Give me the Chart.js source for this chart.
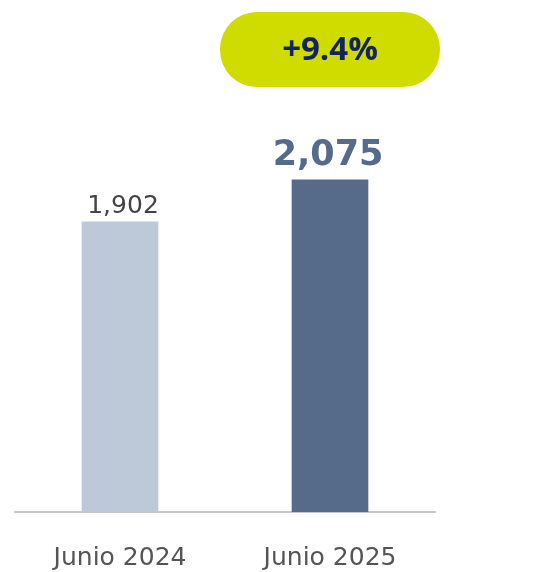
<!DOCTYPE html>
<html>
<head>
<meta charset="utf-8">
<script src="https://cdn.jsdelivr.net/npm/chart.js@4"></script>
<style>
  html, body { margin: 0; padding: 0; background: #fff; }
  #wrap { width: 543px; height: 572px; }
</style>
</head>
<body>
<div id="wrap"><canvas id="myChart"></canvas></div>
<script>
// data
const categories = ['Junio 2024', 'Junio 2025'];
const values = [1902, 2075];
const valueLabels = ['1,902', '2,075'];
const barColors = ['#bdc9d8', '#566b8a'];
const changeLabel = '+9.4%';

// value labels on top of bars + the green pill
const labelsPlugin = {
    id: 'labelsPlugin',
    afterDatasetsDraw(chart) {
        const ctx = chart.ctx;
        const meta = chart.getDatasetMeta(0);
        ctx.save();
        ctx.textAlign = 'center';
        ctx.textBaseline = 'alphabetic';
        meta.data.forEach((bar, i) => {
            if (i === 0) {
                ctx.font = '25px "DejaVu Sans"';
                ctx.fillStyle = '#444';
                ctx.fillText(valueLabels[i], bar.x + 3, bar.y - 9);
            } else {
                ctx.font = 'bold 35px "DejaVu Sans"';
                ctx.fillStyle = '#566b8a';
                ctx.fillText(valueLabels[i], bar.x - 2, bar.y - 15);
            }
        });

        // pill above last bar
        const last = meta.data[meta.data.length - 1];
        const w = 220, h = 75, r = 37;
        const x = last.x - w / 2, y = 12;
        ctx.fillStyle = '#d0dc00';
        ctx.beginPath();
        ctx.roundRect(x, y, w, h, r);
        ctx.fill();
        ctx.fillStyle = '#13235e';
        ctx.font = 'bold 33px "Open Sans"';
        ctx.textBaseline = 'middle';
        ctx.fillText(changeLabel, last.x, y + h / 2 + 1);
        ctx.restore();
    }
};

var ctx = document.getElementById('myChart').getContext('2d');
var chart = new Chart(ctx, {
    type: 'bar',
    data: {
        labels: categories,
        datasets: [{
            data: values,
            backgroundColor: barColors,
            barThickness: 76
        }]
    },
    options: {
        responsive: true,
        maintainAspectRatio: false,
        animation: false,
        layout: { padding: { top: 20, left: 15, right: 108, bottom: 0 } },
        plugins: {
            legend: { display: false },
            tooltip: { enabled: false }
        },
        scales: {
            x: {
                grid: { display: false, drawTicks: false },
                border: { color: '#c8c8c8', width: 2 },
                ticks: {
                    color: '#555',
                    font: { family: 'DejaVu Sans', size: 25 },
                    padding: 31,
                    maxRotation: 0
                },
                afterFit(scale) { scale.height = 60; }
            },
            y: {
                display: false,
                min: 707,
                max: 2734
            }
        }
    },
    plugins: [labelsPlugin]
});
</script>
</body>
</html>
